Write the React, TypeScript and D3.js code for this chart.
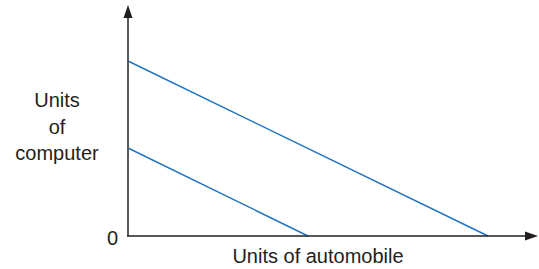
import React from 'react';
import * as d3 from 'd3';

// two production possibility frontiers (intercepts on each axis)
const frontierNames = ['outer', 'inner'];
const computerMax = [8.75, 4.4];
const automobileMax = [9, 4.5];

const yLabelLines = ['Units', 'of', 'computer'];
const xLabel = 'Units of automobile';
const originLabel = '0';

const W = 539;
const H = 269;
const origin = { x: 128, y: 236 };

const App = () => {
  const x = d3.scaleLinear().domain([0, 10]).range([origin.x, origin.x + 400]);
  const y = d3.scaleLinear().domain([0, 10]).range([origin.y, origin.y - 200]);

  const line = d3.line<[number, number]>()
    .x(d => x(d[0]))
    .y(d => y(d[1]));

  const textColor = '#231f20';
  const font = '"Liberation Sans", Arial, Helvetica, sans-serif';

  return (
    <svg
      width={W}
      height={H}
      style={{ position: 'absolute', left: 0, top: 0, background: '#fff' }}
      fontFamily={font}
    >
      {/* frontiers */}
      {frontierNames.map((name, i) => (
        <path
          key={name}
          d={line([[0, computerMax[i]], [automobileMax[i], 0]]) || ''}
          fill="none"
          stroke="#1f73bf"
          strokeWidth={1.4}
        />
      ))}

      {/* y axis with arrow */}
      <line x1={origin.x} y1={origin.y} x2={origin.x} y2={17} stroke="#5a5a5a" strokeWidth={2} />
      <polygon points={`${origin.x - 4.5},18 ${origin.x},5 ${origin.x + 4.5},18`} fill="#231f20" />

      {/* x axis with arrow */}
      <line x1={origin.x - 1} y1={origin.y} x2={526} y2={origin.y} stroke="#231f20" strokeWidth={1.6} />
      <polygon points={`525,${origin.y - 4.5} 538,${origin.y} 525,${origin.y + 4.5}`} fill="#231f20" />

      {/* labels */}
      <text x={118} y={245} textAnchor="end" fontSize={20} fill={textColor}>{originLabel}</text>
      {yLabelLines.map((t, i) => (
        <text key={t} x={57} y={107 + i * 26.5} textAnchor="middle" fontSize={20} fill={textColor}>{t}</text>
      ))}
      <text x={318} y={263} textAnchor="middle" fontSize={20} fill={textColor}>{xLabel}</text>
    </svg>
  );
};

export default App;
